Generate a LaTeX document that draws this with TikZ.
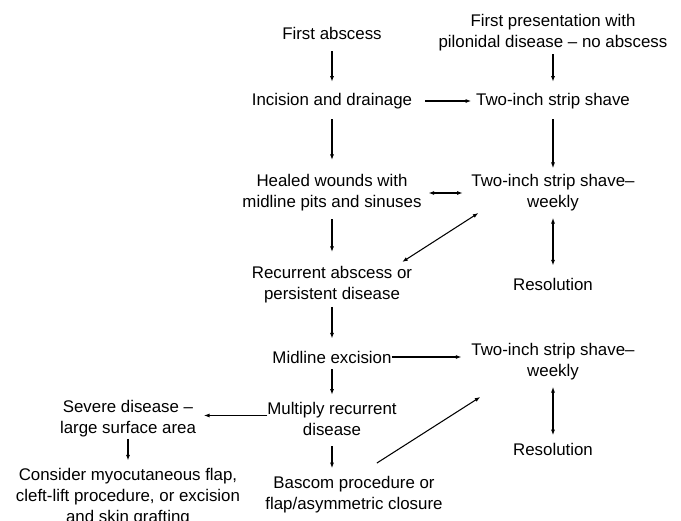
\documentclass[tikz,border=0pt]{standalone}
\usepackage{fontspec}
\setmainfont{Liberation Sans}
\usetikzlibrary{arrows.meta}

\begin{document}
\begin{tikzpicture}[
  x=0.02cm, y=-0.02cm,
  font=\fontsize{9.6pt}{12pt}\selectfont,
  step text/.style={align=center, inner sep=0pt, outer sep=0pt},
  flow/.style={-{Latex[length=3.2pt,width=2.3pt]}, line width=0.6pt, draw=black},
  dflow/.style={{Latex[length=3.2pt,width=2.3pt]}-{Latex[length=3.2pt,width=2.3pt]},
    line width=0.6pt, draw=black}
]
  \useasboundingbox (0,0) rectangle (681,521);

  % left column
  \node[step text] (first) at (332,33) {First abscess};
  \node[step text] (incision) at (332,101) {Incision and drainage};
  \node[step text] (healed) at (332,193) {Healed wounds with\\midline pits and sinuses};
  \node[step text] (recurrent) at (332,285) {Recurrent abscess or\\persistent disease};
  \node[step text] (midline) at (332,357) {Midline excision};
  \node[step text] (multiply) at (332,419) {Multiply recurrent\\disease};
  \node[step text] (bascom) at (354,495) {Bascom procedure or\\flap/asymmetric closure};
  \node[step text] (severe) at (128,419) {Severe disease --\\large surface area};
  \node[step text] (consider) at (128,497) {Consider myocutaneous flap,\\cleft-lift procedure, or excision\\and skin grafting};

  % right column
  \node[step text] (firstpres) at (553,33) {First presentation with\\pilonidal disease -- no abscess};
  \node[step text] (shave) at (553,101) {Two-inch strip shave};
  \node[step text] (weeklyA) at (553,193) {Two-inch strip shave--\\weekly};
  \node[step text] (resolA) at (553,284) {Resolution};
  \node[step text] (weeklyB) at (553,362) {Two-inch strip shave--\\weekly};
  \node[step text] (resolB) at (553,449) {Resolution};

  % vertical steps
  \draw[flow, shorten <=6.8pt, shorten >=6.5pt] (first) -- (incision);
  \draw[flow, shorten <=1.5pt, shorten >=6.5pt] (firstpres) -- (shave);
  \draw[flow, shorten <=6pt, shorten >=8.3pt] (incision) -- (healed);
  \draw[flow, shorten <=6pt, shorten >=3.7pt] (shave) -- (weeklyA);
  \draw[flow, shorten <=4.5pt, shorten >=8.3pt] (healed) -- (recurrent);
  \draw[flow, shorten <=2pt, shorten >=7pt] (recurrent) -- (midline);
  \draw[flow, shorten <=3.4pt, shorten >=4.3pt] (midline) -- (multiply);
  \draw[flow, shorten <=6pt, shorten >=4.8pt] (multiply.south) -- (multiply.south |- bascom.north);
  \draw[flow, shorten <=0.8pt, shorten >=4.3pt] (severe) -- (consider);
  \draw[dflow, shorten <=3.7pt, shorten >=7pt] (weeklyA) -- (resolA);
  \draw[dflow, shorten <=3.7pt, shorten >=4.3pt] (weeklyB) -- (resolB);

  % across
  \draw[flow, shorten <=7.4pt, shorten >=2.8pt] (incision) -- (shave);
  \draw[dflow, shorten <=4pt, shorten >=5pt] (healed) -- (weeklyA);
  \draw[flow, shorten >=5.7pt] (midline) -- (midline -| weeklyB.west);
  \draw[flow, shorten >=4.5pt] ([yshift=2pt]multiply.west) -- ([yshift=2pt]multiply.west -| severe.east);
  \draw[dflow] ([xshift=-5.7pt, yshift=2.6pt]recurrent.north east) -- ([xshift=4pt, yshift=-0.9pt]weeklyA.south west);
  \draw[flow] ([xshift=13pt, yshift=7.7pt]bascom.north) -- ([xshift=5.1pt, yshift=-9.4pt]weeklyB.south west);
\end{tikzpicture}
\end{document}
